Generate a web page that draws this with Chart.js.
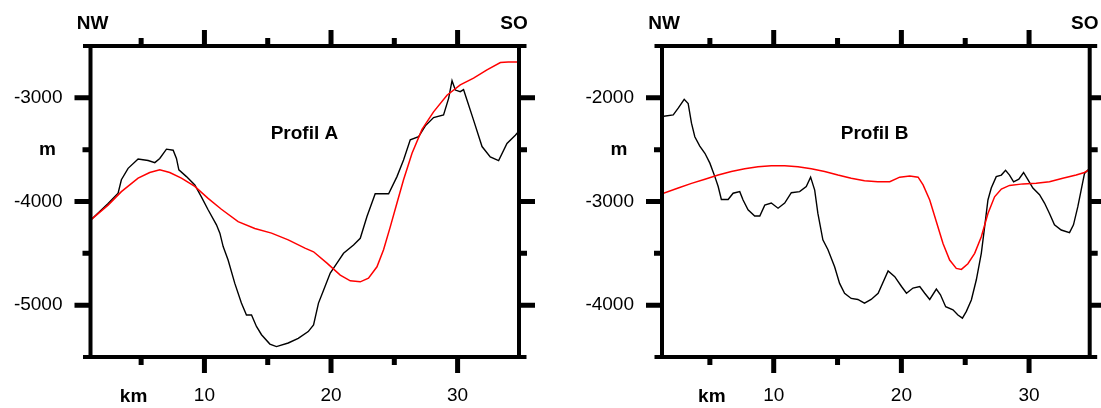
<!DOCTYPE html>
<html>
<head>
<meta charset="utf-8">
<script src="https://cdn.jsdelivr.net/npm/chart.js@4.4.1/dist/chart.umd.min.js"></script>
<style>
  body { margin: 0; background: #fff; }
  canvas { position: absolute; top: 0; }
  #profilA { left: 0; }
  #profilB { left: 550px; }
</style>
</head>
<body>
<canvas id="profilA" width="550" height="408"></canvas>
<canvas id="profilB" width="551" height="408"></canvas>
<script>
// Achsen-Ticks (km / m)
const xMajorTicks = [10, 20, 30];
const xMinorTicks = [5, 15, 25];
const yMajorA = [-3000, -4000, -5000];
const yMinorA = [-3500, -4500];
const yMajorB = [-2000, -3000, -4000];
const yMinorB = [-2500, -3500];

// Profil A: Bathymetrie (schwarz)
const kmBathyA = [1.0, 2.39, 3.18, 3.44, 3.97, 4.76, 5.55, 6.08, 6.47, 7.0, 7.53, 7.79, 7.98, 8.58, 9.24, 9.76,
  10.29, 10.95, 11.22, 11.48, 11.87, 12.4, 12.92, 13.32, 13.72, 14.11, 14.51, 15.17, 15.69, 16.62, 17.41, 18.2,
  18.62, 19.01, 19.41, 19.94, 20.47, 20.99, 21.78, 22.31, 22.84, 23.49, 24.55, 25.21, 25.73, 26.26, 26.92, 27.45,
  28.1, 28.89, 29.29, 29.56, 29.82, 30.21, 30.47, 30.74, 31.26, 31.93, 32.58, 33.24, 33.9, 34.56, 34.85];
const bathyA = [-4180, -4020, -3920, -3790, -3680, -3590, -3605, -3625, -3585, -3495, -3505, -3585, -3695, -3760, -3840, -3955,
  -4080, -4225, -4305, -4435, -4565, -4790, -4980, -5095, -5095, -5205, -5285, -5375, -5400, -5365, -5320, -5255,
  -5190, -4980, -4855, -4690, -4595, -4500, -4420, -4355, -4145, -3925, -3925, -3760, -3600, -3405, -3375, -3270,
  -3190, -3165, -3005, -2835, -2925, -2940, -2920, -3020, -3215, -3470, -3570, -3605, -3440, -3360, -3320];

// Profil A: Modell (rot)
const kmModelA = [1.0, 2.39, 3.44, 4.76, 5.68, 6.47, 7.26, 8.18, 9.24, 10.29, 11.34, 12.66, 13.98, 15.3, 16.62, 17.94,
  18.62, 19.68, 20.73, 21.52, 22.31, 22.96, 23.63, 24.15, 24.68, 25.21, 25.73, 26.4, 27.19, 28.1, 29.16, 30.21,
  31.26, 32.32, 33.38, 34.0, 34.85];
const modelA = [-4180, -4035, -3905, -3775, -3720, -3695, -3720, -3775, -3855, -3970, -4075, -4195, -4260, -4305, -4370, -4450,
  -4485, -4595, -4710, -4765, -4775, -4740, -4630, -4465, -4245, -4015, -3790, -3535, -3305, -3135, -2975, -2875,
  -2810, -2730, -2660, -2655, -2655];

// Profil B: Bathymetrie (schwarz)
const kmBathyB = [1.25, 2.13, 2.52, 2.99, 3.3, 3.56, 3.82, 4.21, 4.61, 5.0, 5.39, 5.65, 5.9, 6.43, 6.82, 7.34, 7.6, 7.99,
  8.51, 8.91, 9.3, 9.81, 10.34, 10.86, 11.38, 12.03, 12.55, 12.89, 13.21, 13.46, 13.85, 14.25, 14.77, 15.16, 15.55,
  16.07, 16.59, 17.11, 17.63, 18.18, 18.96, 19.48, 20.01, 20.4, 20.91, 21.44, 21.83, 22.22, 22.74, 23.06, 23.47,
  24.04, 24.43, 24.78, 25.09, 25.48, 25.87, 26.26, 26.52, 26.78, 27.04, 27.43, 27.83, 28.16, 28.47, 28.79, 29.2,
  29.57, 29.91, 30.3, 30.82, 31.21, 31.6, 31.99, 32.52, 33.17, 33.48, 33.82, 34.08, 34.34, 34.75];
const bathyB = [-2180, -2165, -2100, -2015, -2055, -2245, -2375, -2465, -2535, -2630, -2760, -2855, -2980, -2980, -2920, -2905, -2985, -3080,
  -3140, -3140, -3035, -3015, -3065, -3015, -2915, -2905, -2855, -2765, -2890, -3115, -3370, -3465, -3630, -3790, -3885,
  -3935, -3945, -3980, -3945, -3885, -3670, -3725, -3820, -3885, -3835, -3820, -3885, -3945, -3845, -3900, -4015,
  -4045, -4095, -4125, -4060, -3950, -3755, -3500, -3245, -2985, -2870, -2760, -2745, -2700, -2745, -2810, -2785,
  -2720, -2790, -2870, -2935, -3015, -3115, -3225, -3275, -3300, -3225, -3050, -2890, -2730, -2680];

// Profil B: Modell (rot)
const kmModelB = [1.25, 2.52, 3.56, 4.61, 5.65, 6.68, 7.73, 8.77, 9.81, 10.86, 11.9, 12.94, 13.99, 15.03, 16.07, 17.11,
  18.15, 19.09, 19.87, 20.66, 21.31, 21.7, 22.22, 22.74, 23.26, 23.78, 24.3, 24.7, 25.21, 25.74, 26.26, 26.78,
  27.3, 27.83, 28.47, 29.52, 30.56, 31.6, 32.64, 33.69, 34.34, 34.75];
const modelB = [-2925, -2870, -2825, -2785, -2745, -2710, -2685, -2665, -2655, -2655, -2665, -2685, -2710, -2745, -2775, -2800,
  -2810, -2810, -2765, -2755, -2765, -2840, -2985, -3195, -3405, -3565, -3645, -3655, -3600, -3500, -3340, -3115,
  -2955, -2880, -2845, -2830, -2825, -2810, -2775, -2745, -2720, -2690];

const fontFamily = '"Liberation Sans", Arial, Helvetica, sans-serif';

function pairs(xs, ys) {
    return xs.map((x, i) => ({ x: x, y: ys[i] }));
}

// GMT-artiger Rahmen mit dicken Ticks und Beschriftungen
const framePlugin = {
    id: 'frame',
    afterDraw(chart, args, opts) {
        const ctx = chart.ctx;
        const a = chart.chartArea;
        const xs = chart.scales.x;
        const ys = chart.scales.y;
        ctx.save();
        ctx.strokeStyle = '#000';
        ctx.lineCap = 'butt';

        ctx.lineWidth = 4;
        ctx.beginPath();
        ctx.moveTo(a.left - 7.5, a.top); ctx.lineTo(a.right + 7.5, a.top);
        ctx.moveTo(a.left - 7.5, a.bottom); ctx.lineTo(a.right + 7.5, a.bottom);
        ctx.moveTo(a.left, a.top); ctx.lineTo(a.left, a.bottom);
        ctx.moveTo(a.right, a.top); ctx.lineTo(a.right, a.bottom);
        ctx.stroke();

        ctx.lineWidth = 5;
        ctx.beginPath();
        const xTick = (v, len) => {
            const px = xs.getPixelForValue(v);
            ctx.moveTo(px, a.top); ctx.lineTo(px, a.top - len);
            ctx.moveTo(px, a.bottom); ctx.lineTo(px, a.bottom + len);
        };
        const yTick = (v, len) => {
            const py = ys.getPixelForValue(v);
            ctx.moveTo(a.left, py); ctx.lineTo(a.left - len, py);
            ctx.moveTo(a.right, py); ctx.lineTo(a.right + len, py);
        };
        xMajorTicks.forEach(v => xTick(v, 16));
        xMinorTicks.forEach(v => xTick(v, 8));
        opts.yMajor.forEach(v => yTick(v, 16));
        opts.yMinor.forEach(v => yTick(v, 8));
        ctx.stroke();

        ctx.fillStyle = '#000';
        ctx.font = 'bold 19px ' + fontFamily;
        ctx.textBaseline = 'alphabetic';
        ctx.textAlign = 'center';
        ctx.fillText('NW', a.left + 2, 29);
        ctx.fillText('SO', a.right - 5, 29);
        ctx.fillText(opts.title, xs.getPixelForValue(opts.titleAt[0]), ys.getPixelForValue(opts.titleAt[1]));
        ctx.fillText('km', xs.getPixelForValue(opts.kmAt), a.bottom + 44.5);
        ctx.fillText('m', a.left - 43, ys.getPixelForValue(opts.mAt) + 5);
        ctx.restore();
    }
};

function profileChart(id, p) {
    return new Chart(document.getElementById(id), {
        type: 'line',
        data: {
            datasets: [
                {
                    data: pairs(p.kmModel, p.model),
                    borderColor: '#ff0000',
                    borderWidth: 1.5,
                    pointRadius: 0,
                    tension: 0
                },
                {
                    data: pairs(p.kmBathy, p.bathy),
                    borderColor: '#000000',
                    borderWidth: 1.4,
                    pointRadius: 0,
                    tension: 0
                }
            ]
        },
        options: {
            responsive: false,
            animation: false,
            devicePixelRatio: 1,
            layout: { padding: { top: 46, right: p.padRight, left: 0, bottom: 0 } },
            plugins: {
                legend: { display: false },
                tooltip: { enabled: false },
                frame: {
                    yMajor: p.yMajor,
                    yMinor: p.yMinor,
                    title: p.title,
                    titleAt: p.titleAt,
                    kmAt: p.kmAt,
                    mAt: p.mAt
                }
            },
            scales: {
                x: {
                    type: 'linear',
                    min: p.xMin,
                    max: p.xMax,
                    afterBuildTicks: s => { s.ticks = xMajorTicks.map(v => ({ value: v })); },
                    afterFit: s => { s.height = 51; },
                    grid: { display: false, drawTicks: false },
                    border: { display: false },
                    ticks: {
                        padding: 27,
                        color: '#000',
                        maxRotation: 0,
                        autoSkip: false,
                        font: { family: fontFamily, size: 19 },
                        callback: v => String(v)
                    }
                },
                y: {
                    min: p.yMin,
                    max: p.yMax,
                    afterBuildTicks: s => { s.ticks = p.yMajor.map(v => ({ value: v })); },
                    afterFit: s => { s.width = p.yWidth; },
                    grid: { display: false, drawTicks: false },
                    border: { display: false },
                    ticks: {
                        padding: 28,
                        color: '#000',
                        font: { family: fontFamily, size: 19 },
                        callback: v => String(v)
                    }
                }
            }
        },
        plugins: [framePlugin]
    });
}

profileChart('profilA', {
    kmBathy: kmBathyA, bathy: bathyA, kmModel: kmModelA, model: modelA,
    xMin: 1.0, xMax: 34.85, yMin: -5500, yMax: -2500,
    yMajor: yMajorA, yMinor: yMinorA,
    yWidth: 90.5, padRight: 31,
    title: 'Profil A', titleAt: [17.9, -3400], kmAt: 4.4, mAt: -3500
});

profileChart('profilB', {
    kmBathy: kmBathyB, bathy: bathyB, kmModel: kmModelB, model: modelB,
    xMin: 1.25, xMax: 34.75, yMin: -4500, yMax: -1500,
    yMajor: yMajorB, yMinor: yMinorB,
    yWidth: 112, padRight: 11.3,
    title: 'Profil B', titleAt: [17.9, -2400], kmAt: 5.15, mAt: -2500
});
</script>
</body>
</html>
